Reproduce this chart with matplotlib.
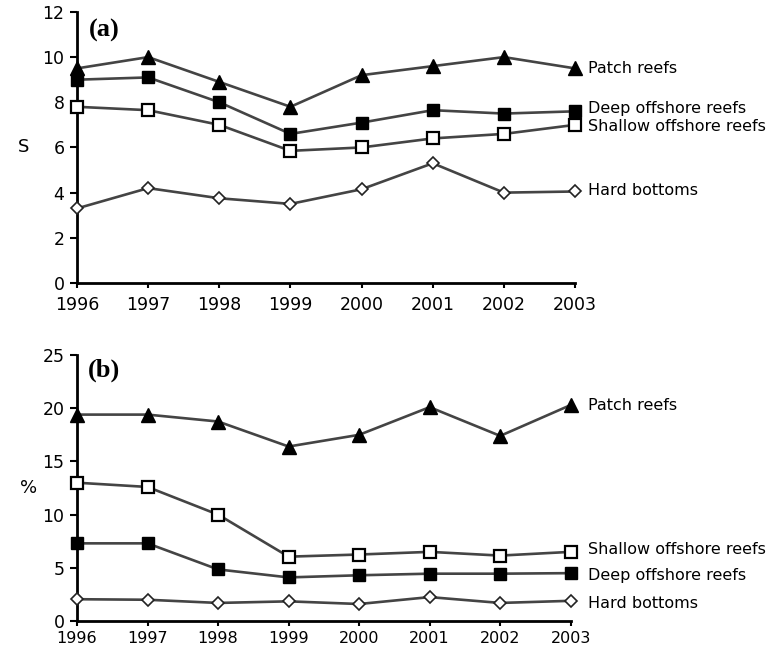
import matplotlib
matplotlib.use("Agg")
import matplotlib.pyplot as plt

years = [1996, 1997, 1998, 1999, 2000, 2001, 2002, 2003]
year_labels = ["1996", "1997", "1998", "1999", "2000", "2001", "2002", "2003"]

# Panel (a): S
a_patch = [9.5, 10.0, 8.9, 7.8, 9.2, 9.6, 10.0, 9.5]
a_deep = [9.0, 9.1, 8.0, 6.6, 7.1, 7.65, 7.5, 7.6]
a_shallow = [7.8, 7.65, 7.0, 5.85, 6.0, 6.4, 6.6, 7.0]
a_hard = [3.3, 4.2, 3.75, 3.5, 4.15, 5.3, 4.0, 4.05]

# Panel (b): %
b_patch = [19.4, 19.4, 18.75, 16.4, 17.5, 20.1, 17.4, 20.3]
b_shallow = [13.0, 12.6, 10.0, 6.05, 6.25, 6.5, 6.15, 6.5]
b_deep = [7.3, 7.3, 4.85, 4.1, 4.3, 4.45, 4.45, 4.5]
b_hard = [2.05, 2.0, 1.7, 1.85, 1.6, 2.25, 1.7, 1.9]

a_yticks = [0, 2, 4, 6, 8, 10, 12]
b_yticks = [0, 5, 10, 15, 20, 25]

plt.rcParams['font.family'] = ['DejaVu Sans']

fig = plt.figure(figsize=(7.75, 6.52), dpi=100)
axa = fig.add_axes([0.0994, 0.566, 0.6426, 0.4157])
axb = fig.add_axes([0.0994, 0.0475, 0.637, 0.408])

LC = '#444444'
LW = 1.9

styles = {
    'patch': dict(marker='^', ms=10, mfc='black', mec='black'),
    'deep': dict(marker='s', ms=9, mfc='black', mec='black'),
    'shallow': dict(marker='s', ms=8.5, mfc='white', mec='black', mew=1.6),
    'hard': dict(marker='D', ms=6, mfc='white', mec='#222222', mew=1.2),
}

def draw(ax, series, labels, offsets, xoff, yticks, ylim, ylabel, tag, tagpos,
         ylabelpad, xpad, xsize):
    for key, vals in series.items():
        ax.plot(years, vals, color=LC, lw=LW, clip_on=False, zorder=3, **styles[key])
    for key, vals in series.items():
        ax.annotate(labels[key], xy=(years[-1], vals[-1]), xytext=(xoff, offsets[key]),
                    textcoords='offset points', va='center', ha='left', fontsize=11.5,
                    annotation_clip=False)
    ax.set_xlim(1996, 2003)
    ax.set_ylim(*ylim)
    ax.set_xticks(years)
    ax.set_xticklabels(year_labels)
    ax.set_yticks(yticks)
    for s in ['top', 'right']:
        ax.spines[s].set_visible(False)
    for s in ['left', 'bottom']:
        ax.spines[s].set_linewidth(2)
    ax.tick_params(axis='x', direction='out', length=3.5, width=1.5, labelsize=xsize, pad=xpad)
    ax.tick_params(axis='y', direction='out', length=5, width=1.5, labelsize=12.5, pad=4)
    ax.set_ylabel(ylabel, rotation=0, fontsize=13, labelpad=ylabelpad, va='center')
    ax.text(tagpos[0], tagpos[1], tag, transform=ax.transAxes, fontsize=19, fontweight='bold',
            family='Liberation Serif', va='center', ha='left')

labels = {'patch': 'Patch reefs', 'deep': 'Deep offshore reefs',
          'shallow': 'Shallow offshore reefs', 'hard': 'Hard bottoms'}

draw(axa, {'patch': a_patch, 'deep': a_deep, 'shallow': a_shallow, 'hard': a_hard},
     labels, {'patch': 0, 'deep': 2, 'shallow': -1.5, 'hard': 1}, 9.5,
     a_yticks, (0, 12), 'S', '(a)', (0.024, 0.93), 14, 6, 12.5)
draw(axb, {'patch': b_patch, 'shallow': b_shallow, 'deep': b_deep, 'hard': b_hard},
     labels, {'patch': 0, 'shallow': 1.5, 'deep': -2, 'hard': -2}, 12.5,
     b_yticks, (0, 25), '%', '(b)', (0.022, 0.944), 10, 3.5, 11.5)

fig.savefig('out.png', dpi=100)
